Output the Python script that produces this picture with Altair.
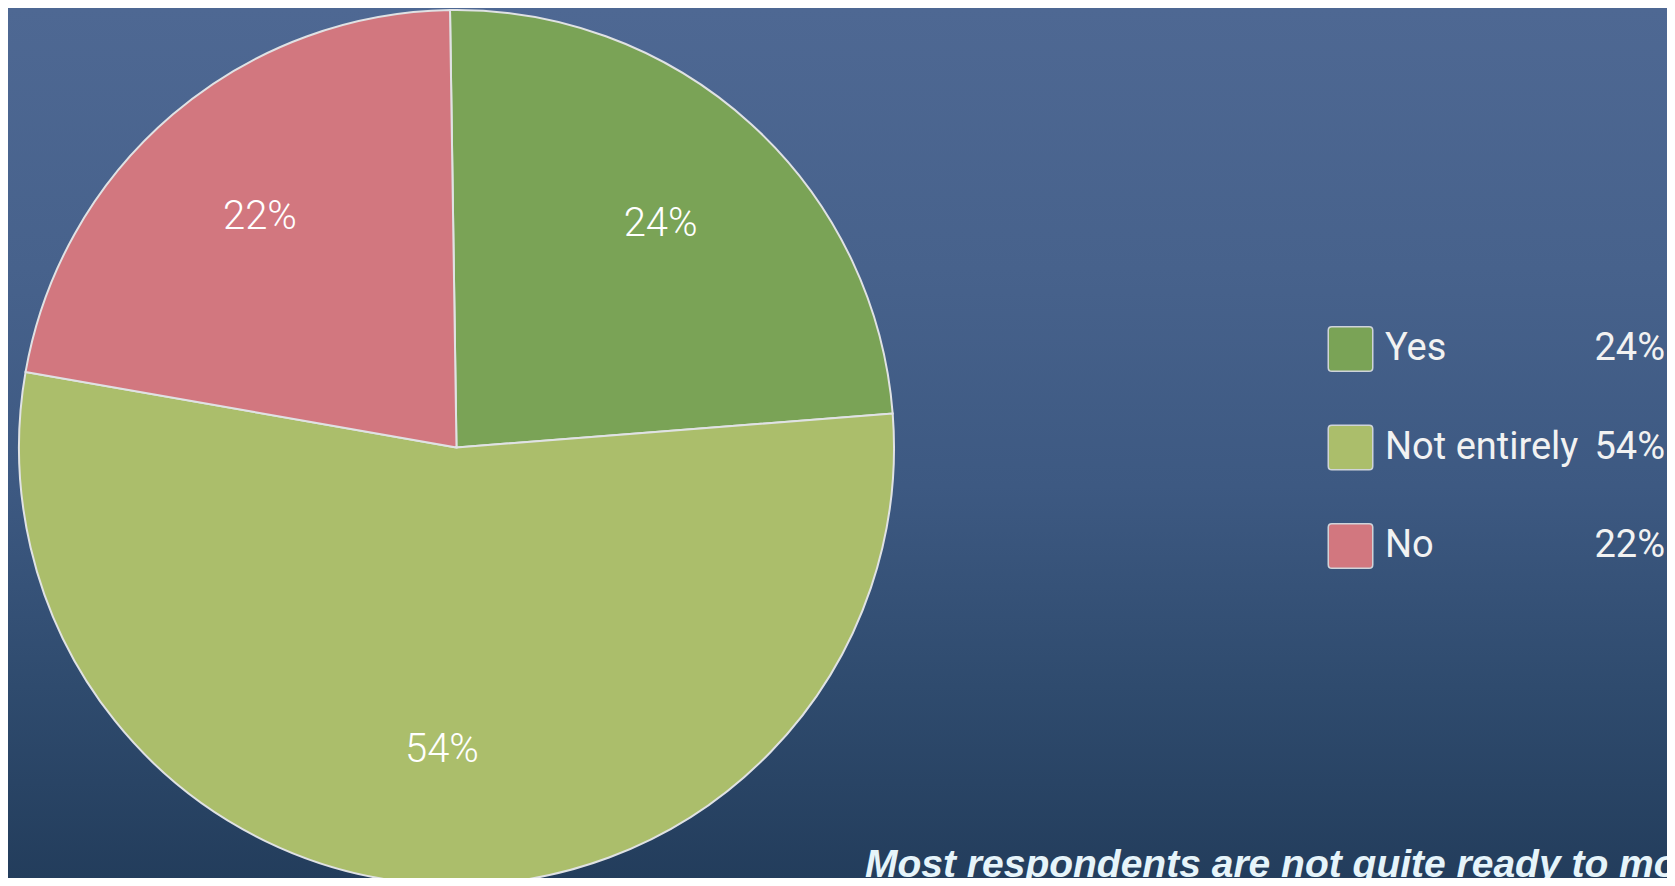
import math
import altair as alt
import pandas as pd

# ---- data ----
categories = ["Yes", "Not entirely", "No"]
values = [24, 54, 22]
labels = ["24%", "54%", "22%"]
colors = ["#7aa356", "#abbe6b", "#d2777f"]
caption = "Most respondents are not quite ready to move"

# ---- layout ----
W, H = 1659, 870
CX, CY = 448.5, 439.5
R = 437.5
START = math.radians(-0.85)

df = pd.DataFrame({
    "category": categories,
    "value": values,
    "label": labels,
    "order": list(range(len(categories))),
})

theta = alt.Theta("value:Q", stack=True,
                  scale=alt.Scale(range=[START, START + 2 * math.pi]))
color = alt.Color("category:N", scale=alt.Scale(domain=categories, range=colors),
                  legend=None)
order = alt.Order("order:Q")

bg = alt.Chart(pd.DataFrame({"a": [0]})).mark_rect(
    color=alt.LinearGradient(
        gradient="linear",
        stops=[
            alt.GradientStop(color="#4e6893", offset=0),
            alt.GradientStop(color="#47628c", offset=0.3),
            alt.GradientStop(color="#3d5982", offset=0.55),
            alt.GradientStop(color="#2f4b6e", offset=0.78),
            alt.GradientStop(color="#233d5c", offset=1),
        ],
        x1=0, x2=0, y1=0, y2=1,
    )
).encode(x=alt.value(0), x2=alt.value(W), y=alt.value(0), y2=alt.value(H))

pie = alt.Chart(df).mark_arc(outerRadius=R, stroke="#e0e2e4", strokeWidth=2).encode(
    theta=theta, color=color, order=order,
    x=alt.value(CX), y=alt.value(CY),
)

pie_text = alt.Chart(df).mark_text(
    radius=303, font="Roboto", fontSize=40, fontWeight=300, color="#ffffff",
    align="center", baseline="middle",
).encode(
    theta=theta, order=order, detail="category:N", text="label:N",
    x=alt.value(CX), y=alt.value(CY),
)

leg_y = alt.Y("category:N", axis=None,
              scale=alt.Scale(domain=categories, range=[341, 538], padding=0))

ROUNDED = "M-0.84,-1H0.84Q1,-1,1,-0.84V0.84Q1,1,0.84,1H-0.84Q-1,1,-1,0.84V-0.84Q-1,-1,-0.84,-1Z"

swatches = alt.Chart(df).mark_point(
    shape=ROUNDED, filled=True, size=44.5 ** 2, opacity=1,
    stroke="#cfd4da", strokeWidth=1.5,
).encode(x=alt.value(1342.5), y=leg_y, color=color)

leg_text = alt.Chart(df).mark_text(
    align="left", baseline="middle", font="Roboto", fontSize=38, fontWeight=400,
    color="#f2f2f2",
).encode(x=alt.value(1377), y=leg_y, text="category:N")

leg_pct = alt.Chart(df).mark_text(
    align="right", baseline="middle", font="Roboto", fontSize=38, fontWeight=400,
    color="#f2f2f2",
).encode(x=alt.value(1657), y=leg_y, text="label:N")

cap = alt.Chart(pd.DataFrame({"caption": [caption]})).mark_text(
    align="left", baseline="alphabetic", font="Liberation Sans", fontSize=39,
    fontStyle="italic", fontWeight="bold", color="#e6f4fa",
).encode(x=alt.value(857), y=alt.value(869), text="caption:N")

chart = alt.layer(bg, pie, pie_text, swatches, leg_text, leg_pct, cap).properties(
    width=W, height=H,
    autosize=alt.AutoSizeParams(type="none"),
    padding=0,
    background="#3a5680",
).configure_view(stroke=None)

chart.save("out.html", embed_options={"renderer": "svg", "actions": False})
